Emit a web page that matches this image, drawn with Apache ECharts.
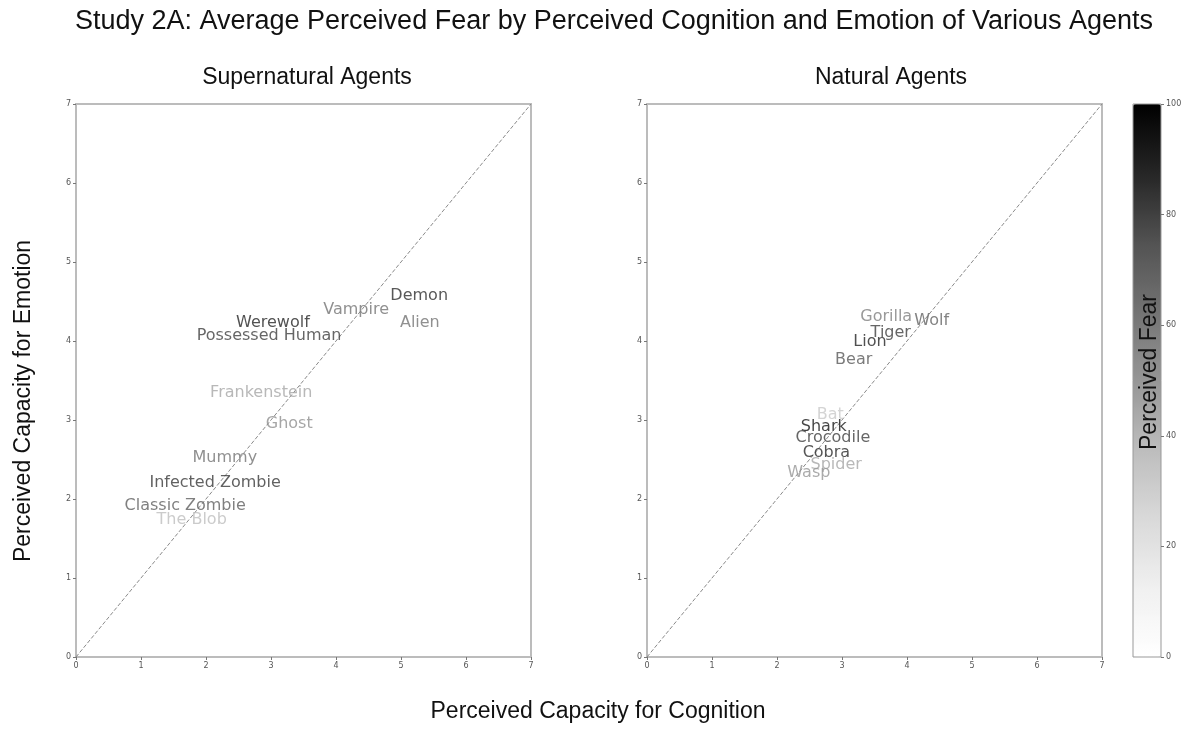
<!DOCTYPE html>
<html>
<head>
<meta charset="utf-8">
<script src="https://cdn.jsdelivr.net/npm/echarts@6/dist/echarts.min.js"></script>
<style>html,body{margin:0;padding:0;background:#fff;}#c{width:1186px;height:731px;}</style>
</head>
<body>
<div id="c"></div>
<script>
// ---- data ----
const superNames = ['Demon','Vampire','Alien','Werewolf','Possessed Human','Frankenstein','Ghost','Mummy','Infected Zombie','Classic Zombie','The Blob'];
const superCognition = [5.28, 4.31, 5.29, 3.03, 2.97, 2.85, 3.28, 2.29, 2.14, 1.68, 1.78];
const superEmotion   = [4.57, 4.39, 4.23, 4.23, 4.06, 3.34, 2.95, 2.52, 2.20, 1.91, 1.73];
const superFear      = [85, 62, 62, 87, 80, 45, 52, 62, 82, 70, 37];

const natNames = ['Gorilla','Wolf','Tiger','Lion','Bear','Bat','Shark','Crocodile','Cobra','Spider','Wasp'];
const natCognition = [3.68, 4.38, 3.75, 3.43, 3.18, 2.82, 2.72, 2.86, 2.76, 2.91, 2.49];
const natEmotion   = [4.30, 4.25, 4.10, 3.99, 3.76, 3.06, 2.91, 2.78, 2.59, 2.43, 2.33];
const natFear      = [58, 68, 80, 88, 72, 32, 93, 80, 86, 45, 50];

const diagX = [0, 7];
const diagY = [0, 7];
const axisTicks = [0, 1, 2, 3, 4, 5, 6, 7];
const fearTicks = [0, 20, 40, 60, 80, 100];

// matplotlib "Greys" colormap stops
const greys = ['#ffffff','#f0f0f0','#d9d9d9','#bdbdbd','#969696','#737373','#525252','#252525','#000000'];
function greyColor(v) {
  const t = Math.max(0, Math.min(1, v / 100)) * (greys.length - 1);
  const i = Math.min(Math.floor(t), greys.length - 2);
  const f = t - i;
  const a = parseInt(greys[i].slice(1, 3), 16), b = parseInt(greys[i + 1].slice(1, 3), 16);
  const g = Math.round(a + (b - a) * f);
  return 'rgb(' + g + ',' + g + ',' + g + ')';
}

function buildData(names, xs, ys, fs) {
  return names.map((n, i) => ({
    name: n,
    value: [xs[i], ys[i], fs[i]],
    label: { color: greyColor(fs[i]) }
  }));
}

const chart = echarts.init(document.getElementById('c'), null, { renderer: 'canvas' });

const frame = '#bcbcbc';
function valueAxis(gi) {
  return {
    type: 'value', gridIndex: gi, min: 0, max: 7, interval: 1,
    axisLine: { show: true, onZero: false, lineStyle: { color: frame, width: 2 } },
    axisTick: { show: true, length: 3, lineStyle: { color: '#777', width: 1 } },
    axisLabel: { fontSize: 8, color: '#555', fontFamily: 'DejaVu Sans', margin: 5,
      formatter: v => axisTicks.includes(v) ? String(v) : '' },
    splitLine: { show: false }
  };
}

const labelBase = {
  show: true, position: 'inside', formatter: '{b}',
  fontFamily: 'DejaVu Sans', fontSize: 16, align: 'center', verticalAlign: 'middle'
};

const option = {
  backgroundColor: '#fff',
  animation: false,
  grid: [
    { left: 76, top: 104, width: 455, height: 553, show: true, borderColor: frame, borderWidth: 2, backgroundColor: 'transparent' },
    { left: 647, top: 104, width: 455, height: 553, show: true, borderColor: frame, borderWidth: 2, backgroundColor: 'transparent' },
    { left: 1133, top: 104, width: 28, height: 553, show: true, borderColor: '#999', borderWidth: 1, backgroundColor: 'transparent', z: 10 }
  ],
  xAxis: [
    valueAxis(0),
    valueAxis(1),
    { type: 'value', gridIndex: 2, min: 0, max: 1, show: false }
  ],
  yAxis: [
    valueAxis(0),
    valueAxis(1),
    { type: 'value', gridIndex: 2, min: 0, max: 100, interval: 20, position: 'right', z: 10,
      axisLine: { show: true, onZero: false, lineStyle: { color: 'rgba(0,0,0,0)' } },
      axisTick: { show: true, length: 3, inside: false, lineStyle: { color: '#777' } },
      axisLabel: { fontSize: 8, color: '#555', fontFamily: 'DejaVu Sans', margin: 5,
        formatter: v => fearTicks.includes(v) ? String(v) : '' },
      splitLine: { show: false } }
  ],
  visualMap: {
    type: 'continuous', min: 0, max: 100, calculable: false, show: true,
    left: 1133, top: 104, itemWidth: 28, itemHeight: 553, padding: 0,
    text: null, showLabel: false, hoverLink: false,
    dimension: 1, seriesIndex: [4],
    inRange: { color: greys }
  },
  series: [
    { type: 'line', xAxisIndex: 0, yAxisIndex: 0, symbol: 'none', silent: true,
      data: diagX.map((x, i) => [x, diagY[i]]),
      lineStyle: { color: '#8a8a8a', width: 1, type: [4, 2] } },
    { type: 'scatter', xAxisIndex: 0, yAxisIndex: 0, symbolSize: 1, itemStyle: { color: 'rgba(0,0,0,0)' },
      label: labelBase, data: buildData(superNames, superCognition, superEmotion, superFear), z: 5 },
    { type: 'scatter', xAxisIndex: 1, yAxisIndex: 1, symbolSize: 1, itemStyle: { color: 'rgba(0,0,0,0)' },
      label: labelBase, data: buildData(natNames, natCognition, natEmotion, natFear), z: 5 },
    { type: 'line', xAxisIndex: 1, yAxisIndex: 1, symbol: 'none', silent: true,
      data: diagX.map((x, i) => [x, diagY[i]]),
      lineStyle: { color: '#8a8a8a', width: 1, type: [4, 2] } },
    { type: 'scatter', xAxisIndex: 2, yAxisIndex: 2, data: [], silent: true }
  ],
  graphic: [
    { type: 'text', x: 614, y: 22, style: { text: 'Study 2A: Average Perceived Fear by Perceived Cognition and Emotion of Various Agents',
      font: '27px "Liberation Sans", Arial, sans-serif', fill: '#111', textAlign: 'center', textVerticalAlign: 'middle' } },
    { type: 'text', x: 307, y: 78, style: { text: 'Supernatural Agents',
      font: '23px "Liberation Sans", Arial, sans-serif', fill: '#111', textAlign: 'center', textVerticalAlign: 'middle' } },
    { type: 'text', x: 891, y: 78, style: { text: 'Natural Agents',
      font: '23px "Liberation Sans", Arial, sans-serif', fill: '#111', textAlign: 'center', textVerticalAlign: 'middle' } },
    { type: 'text', x: 598, y: 712, style: { text: 'Perceived Capacity for Cognition',
      font: '23px "Liberation Sans", Arial, sans-serif', fill: '#111', textAlign: 'center', textVerticalAlign: 'middle' } },
    { type: 'text', x: 24, y: 401, rotation: Math.PI / 2, style: { text: 'Perceived Capacity for Emotion',
      font: '23px "Liberation Sans", Arial, sans-serif', fill: '#111', textAlign: 'center', textVerticalAlign: 'middle' } },
    { type: 'text', x: 1150, y: 372, rotation: Math.PI / 2, z: 100, style: { text: 'Perceived Fear',
      font: '23px "Liberation Sans", Arial, sans-serif', fill: '#111', textAlign: 'center', textVerticalAlign: 'middle' } }
  ]
};
chart.setOption(option);
</script>
</body>
</html>
